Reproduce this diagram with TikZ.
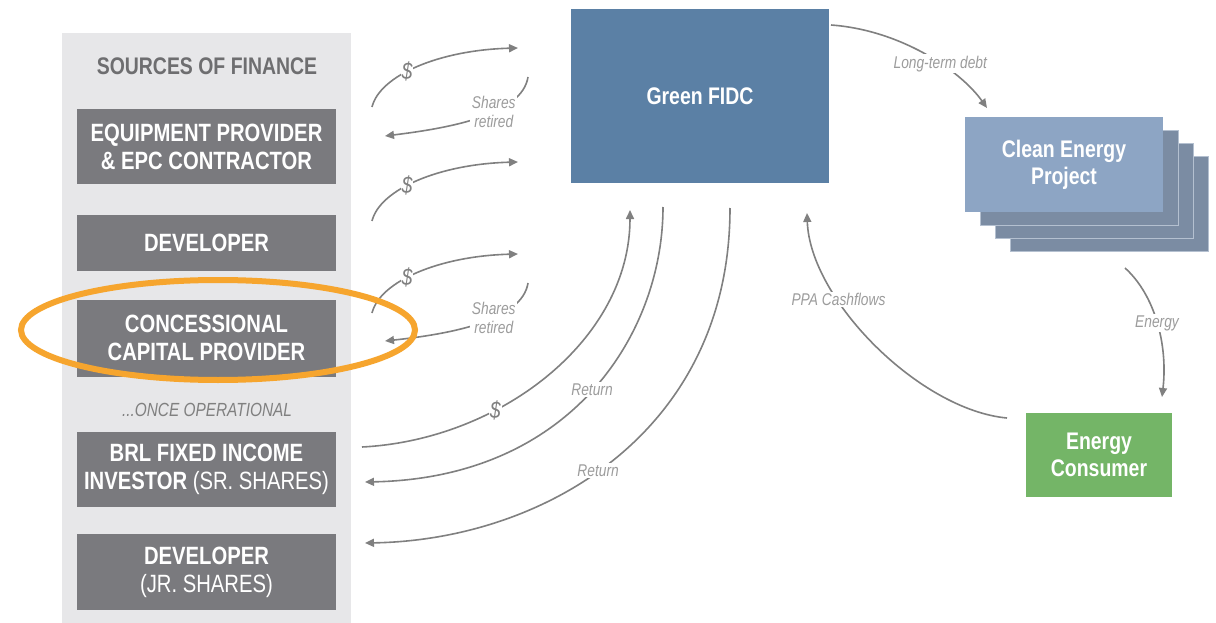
\documentclass[tikz,border=0pt]{standalone}
\usepackage{fontspec}
\setmainfont{Liberation Sans}
\newfontfamily\narrow[FakeStretch=0.81]{Liberation Sans}
\usetikzlibrary{arrows.meta,shapes.geometric}

\definecolor{panelgrey}{HTML}{E7E7E9}
\definecolor{boxgrey}{HTML}{7A7A7E}
\definecolor{headgrey}{HTML}{6E6E70}
\definecolor{flowgrey}{HTML}{808080}
\definecolor{labelgrey}{HTML}{9C9C9C}
\definecolor{fidcblue}{HTML}{5B80A5}
\definecolor{projblue}{HTML}{8DA5C4}
\definecolor{projback}{HTML}{7B8CA3}
\definecolor{projedge}{HTML}{B4C0D0}
\definecolor{consgreen}{HTML}{74B567}
\definecolor{ringorange}{HTML}{F6A52E}

\begin{document}
\begin{tikzpicture}[x=1pt,y=-1pt,
  srcbox/.style={fill=boxgrey, text=white, minimum width=259pt, inner sep=0pt,
    align=center, font=\narrow\bfseries\fontsize{25}{28}\selectfont},
  entity/.style={text=white, inner sep=0pt, align=center,
    font=\narrow\bfseries\fontsize{24}{27}\selectfont},
  layer/.style={fill=projback, draw=projedge, line width=0.8pt,
    minimum width=198pt, minimum height=95pt, inner sep=0pt},
  flow/.style={draw=flowgrey, line width=1.6pt, -{Triangle[length=9pt,width=8pt]}},
  flowtext/.style={fill=white, inner sep=1.5pt, text=labelgrey, align=center,
    font=\narrow\itshape\fontsize{17}{19}\selectfont},
  dollar/.style={fill=white, inner sep=1pt, text=flowgrey,
    font=\narrow\itshape\fontsize{24}{24}\selectfont},
]
% canvas
\fill[white] (0,0) rectangle (1216,623);
\useasboundingbox (0,0) rectangle (1216,623);

% sources of finance column
\node[fill=panelgrey, minimum width=289pt, minimum height=590pt, inner sep=0pt] (panel) at (206.5,328) {};
\node[text=headgrey, font=\narrow\bfseries\fontsize{24}{26}\selectfont] (srchead) at (207,66) {SOURCES OF FINANCE};
\node[srcbox, minimum height=75pt] (equip) at (206.5,146.5) {EQUIPMENT PROVIDER\\\& EPC CONTRACTOR};
\node[srcbox, minimum height=56pt] (dev) at (206.5,243) {DEVELOPER};
\node[srcbox, minimum height=77pt] (conc) at (206.5,338) {CONCESSIONAL\\CAPITAL PROVIDER};
\node[text=flowgrey, font=\narrow\itshape\fontsize{19}{21}\selectfont] (oncehead) at (207,410) {...ONCE OPERATIONAL};
\node[srcbox, minimum height=75pt] (brl) at (206.5,469.5) {BRL FIXED INCOME\\INVESTOR \mdseries(SR. SHARES)};
\node[srcbox, minimum height=76pt] (devjr) at (206.5,572) {DEVELOPER\\\mdseries(JR. SHARES)};

% fund
\node[entity, fill=fidcblue, minimum width=258pt, minimum height=174pt] (fidc) at (700,96) {Green FIDC};

% project stack (back layers first)
\node[layer] (proj3) at (1109,203.5) {};
\node[layer] (proj2) at (1094,190.5) {};
\node[layer] (proj1) at (1079,177.5) {};
\node[entity, fill=projblue, minimum width=198pt, minimum height=95pt] (proj) at (1064,164.5) {Clean Energy\\Project};

% consumer
\node[entity, fill=consgreen, minimum width=146pt, minimum height=84pt] (cons) at (1099,455) {Energy\\Consumer};

% free ends of the flows
\coordinate (a1s) at (372,107);  \coordinate (a1e) at (518,48);
\coordinate (a2s) at (528,77);   \coordinate (a2e) at (385,136);
\coordinate (a3s) at (372,221);  \coordinate (a3e) at (518,162);
\coordinate (a4s) at (372,313);  \coordinate (a4e) at (518,254);
\coordinate (a5s) at (528,283);  \coordinate (a5e) at (385,341);
\coordinate (a6s) at (362,447);  \coordinate (a6e) at (630,210);
\coordinate (a7s) at (663,207);  \coordinate (a7e) at (365,482);
\coordinate (a8s) at (730,208);  \coordinate (a8e) at (365,543);
\coordinate (a9s) at (831,25);   \coordinate (a9e) at (987,108);
\coordinate (a10s) at (1125,268); \coordinate (a10e) at (1162,397);
\coordinate (a11s) at (1007,418); \coordinate (a11e) at (807,213);

% capital in, shares retired
\draw[flow] (a1s) .. controls (380,75) and (440,50) .. (a1e) node[dollar,pos=.42] {\$};
\draw[flow] (a2s) .. controls (522,115) and (450,128) .. (a2e) node[flowtext,pos=.4] {Shares\\retired};
\draw[flow] (a3s) .. controls (380,189) and (440,164) .. (a3e) node[dollar,pos=.42] {\$};
\draw[flow] (a4s) .. controls (380,281) and (440,256) .. (a4e) node[dollar,pos=.42] {\$};
\draw[flow] (a5s) .. controls (522,321) and (450,334) .. (a5e) node[flowtext,pos=.4] {Shares\\retired};

% operational phase
\draw[flow] (a6s) .. controls (500,440) and (630,340) .. (a6e) node[dollar,pos=.34] {\$};
\draw[flow] (a7s) .. controls (663,332) and (573,478) .. (a7e) node[flowtext,pos=.5] {Return};
\draw[flow] (a8s) .. controls (730,431) and (545,540) .. (a8e) node[flowtext,pos=.54] {Return};

% project side
\draw[flow] (a9s) .. controls (900,30) and (960,70) .. (a9e) node[flowtext,pos=.6] {Long-term debt};
\draw[flow] (a10s) .. controls (1155,295) and (1168,345) .. (a10e) node[flowtext,pos=.5] {Energy};
\draw[flow] (a11s) .. controls (920,410) and (810,300) .. (a11e) node[flowtext,pos=.68] {PPA Cashflows};

% highlight ring
\node[draw=ringorange, line width=6pt, ellipse, minimum width=394pt, minimum height=100pt, inner sep=0pt] (ring) at (218,330) {};
\end{tikzpicture}
\end{document}
